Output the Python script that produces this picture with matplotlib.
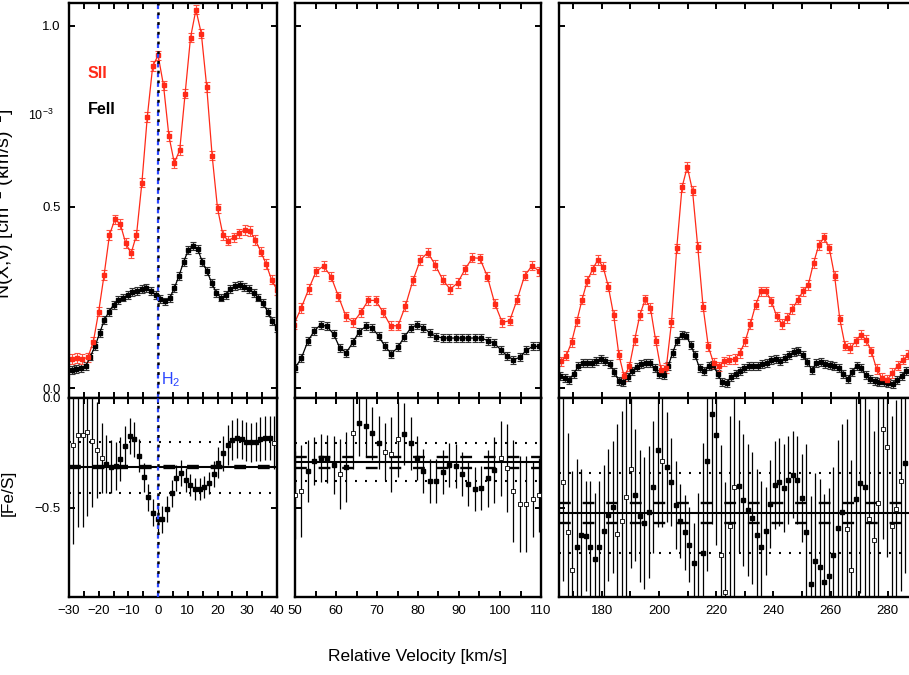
import numpy as np
import matplotlib
matplotlib.use("Agg")
import matplotlib.pyplot as plt

plt.rcParams['font.family'] = ['Liberation Sans', 'DejaVu Sans']
plt.rcParams['mathtext.fontset'] = 'custom'
plt.rcParams['mathtext.rm'] = 'Liberation Sans'
plt.rcParams['mathtext.it'] = 'Liberation Sans:italic'
plt.rcParams['mathtext.bf'] = 'Liberation Sans:bold'
plt.rcParams['lines.scale_dashes'] = False

RED = '#ff2a18'
BLUE = '#2a45ff'

# ---------------- data ----------------
# top row: N(v) in units of 1e-3, SII (red) and FeII (black), pixel grids
sii_start = [-29.1, 49.7, 165.7]
sii_step = [1.818, 1.816, 1.84]
fe_start = [-29.1, 50.0, 165.5]
fe_step = [1.5705, 1.567, 1.57]
sii_err = 0.013
fe_err = 0.011

sii_1 = [0.080, 0.083, 0.080, 0.085, 0.127, 0.211, 0.312, 0.423, 0.466, 0.453,
         0.400, 0.372, 0.423, 0.567, 0.749, 0.889, 0.919, 0.836, 0.696, 0.622,
         0.657, 0.813, 0.968, 1.045, 0.979, 0.832, 0.642, 0.496, 0.423, 0.407,
         0.416, 0.427, 0.437, 0.434, 0.409, 0.377, 0.342, 0.299, 0.271]
fe_1 = [0.051, 0.053, 0.055, 0.060, 0.087, 0.115, 0.152, 0.188, 0.211, 0.230,
        0.244, 0.250, 0.257, 0.264, 0.268, 0.273, 0.276, 0.269, 0.257, 0.246,
        0.239, 0.248, 0.276, 0.310, 0.349, 0.381, 0.392, 0.383, 0.349, 0.322,
        0.291, 0.262, 0.250, 0.257, 0.273, 0.282, 0.285, 0.280, 0.273, 0.262,
        0.250, 0.234, 0.211, 0.184, 0.165]

sii_2 = [0.175, 0.221, 0.273, 0.322, 0.337, 0.308, 0.253, 0.198, 0.181, 0.209,
         0.242, 0.242, 0.209, 0.172, 0.172, 0.227, 0.297, 0.354, 0.374, 0.340,
         0.299, 0.273, 0.290, 0.328, 0.360, 0.358, 0.308, 0.233, 0.181, 0.186,
         0.244, 0.310, 0.338, 0.322]
fe_2 = [0.055, 0.083, 0.129, 0.158, 0.175, 0.170, 0.149, 0.110, 0.098, 0.126,
        0.156, 0.170, 0.167, 0.144, 0.115, 0.095, 0.112, 0.141, 0.165, 0.175,
        0.167, 0.152, 0.142, 0.138, 0.138, 0.138, 0.138, 0.138, 0.138, 0.138,
        0.131, 0.124, 0.106, 0.089, 0.078, 0.085, 0.104, 0.115, 0.115]

sii_3 = [0.074, 0.089, 0.126, 0.184, 0.244, 0.296, 0.328, 0.354, 0.335, 0.280,
         0.202, 0.092, 0.032, 0.060, 0.133, 0.202, 0.245, 0.221, 0.131, 0.051,
         0.055, 0.181, 0.386, 0.554, 0.611, 0.545, 0.389, 0.225, 0.115, 0.069,
         0.060, 0.074, 0.078, 0.080, 0.097, 0.129, 0.177, 0.230, 0.267, 0.267,
         0.239, 0.198, 0.177, 0.193, 0.218, 0.244, 0.267, 0.285, 0.345, 0.395,
         0.416, 0.386, 0.310, 0.190, 0.117, 0.110, 0.129, 0.147, 0.133, 0.101,
         0.052, 0.028, 0.023, 0.041, 0.062, 0.078, 0.092]
fe_3 = [0.032, 0.027, 0.023, 0.040, 0.060, 0.069, 0.070, 0.069, 0.074, 0.080,
        0.075, 0.066, 0.045, 0.020, 0.016, 0.030, 0.048, 0.058, 0.066, 0.069,
        0.068, 0.055, 0.038, 0.035, 0.060, 0.098, 0.130, 0.147, 0.145, 0.120,
        0.090, 0.055, 0.046, 0.062, 0.064, 0.040, 0.016, 0.014, 0.030, 0.040,
        0.048, 0.055, 0.060, 0.060, 0.062, 0.067, 0.070, 0.078, 0.080, 0.075,
        0.082, 0.092, 0.100, 0.102, 0.090, 0.072, 0.050, 0.068, 0.072, 0.066,
        0.063, 0.062, 0.055, 0.040, 0.025, 0.045, 0.062, 0.055, 0.035, 0.025,
        0.020, 0.016, 0.016, 0.014, 0.012, 0.022, 0.034, 0.046]

# bottom row: [Fe/S] per pixel, errors, open-symbol indices
rat_start = [-28.5, 50.0, 166.5]
rat_step = [1.573, 1.567, 1.573]

rat_1 = [-0.214, -0.168, -0.168, -0.155, -0.195, -0.236, -0.274, -0.300, -0.312, -0.309,
         -0.279, -0.218, -0.173, -0.188, -0.262, -0.361, -0.452, -0.521, -0.552, -0.552,
         -0.506, -0.434, -0.365, -0.342, -0.373, -0.395, -0.414, -0.415, -0.406, -0.388,
         -0.345, -0.294, -0.252, -0.214, -0.191, -0.183, -0.188, -0.198, -0.202, -0.198,
         -0.188, -0.180, -0.180, -0.203]
rat_err_1 = [0.45, 0.42, 0.42, 0.38, 0.30, 0.22, 0.16, 0.13, 0.12, 0.11,
             0.10, 0.09, 0.08, 0.08, 0.075, 0.065, 0.06, 0.06, 0.06, 0.06,
             0.06, 0.06, 0.06, 0.06, 0.055, 0.05, 0.05, 0.05, 0.05, 0.05,
             0.06, 0.07, 0.08, 0.09, 0.09, 0.09, 0.09, 0.09, 0.09, 0.09,
             0.10, 0.10, 0.10, 0.12]
rat_open_1 = [0, 1, 2, 3, 4, 5, 6, 43]

rat_2 = [-0.441, -0.423, -0.332, -0.286, -0.274, -0.277, -0.305, -0.347, -0.315, -0.161,
         -0.115, -0.127, -0.161, -0.203, -0.244, -0.256, -0.188, -0.165, -0.206, -0.274,
         -0.332, -0.376, -0.376, -0.335, -0.305, -0.309, -0.345, -0.391, -0.414, -0.408,
         -0.365, -0.327, -0.274, -0.317, -0.423, -0.482, -0.482, -0.461, -0.441]
rat_err_2 = [0.20, 0.21, 0.14, 0.11, 0.11, 0.11, 0.13, 0.16, 0.16, 0.16,
             0.15, 0.14, 0.12, 0.12, 0.13, 0.17, 0.17, 0.14, 0.12, 0.10,
             0.10, 0.10, 0.10, 0.10, 0.10, 0.10, 0.10, 0.10, 0.10, 0.10,
             0.13, 0.15, 0.17, 0.20, 0.23, 0.22, 0.22, 0.17, 0.17]
rat_open_2 = [0, 1, 7, 9, 14, 15, 16, 32, 33, 34, 35, 36, 37, 38]

rat_3 = [-0.380, -0.611, -0.783, -0.679, -0.623, -0.627, -0.679, -0.732, -0.679, -0.605,
         -0.533, -0.497, -0.620, -0.559, -0.448, -0.324, -0.441, -0.536, -0.570, -0.520,
         -0.403, -0.238, -0.288, -0.315, -0.382, -0.488, -0.559, -0.611, -0.667, -0.750,
         -0.930, -0.703, -0.286, -0.073, -0.170, -0.714, -0.883, -0.583, -0.403, -0.400,
         -0.465, -0.509, -0.547, -0.624, -0.679, -0.603, -0.482, -0.397, -0.382, -0.408,
         -0.374, -0.348, -0.373, -0.456, -0.609, -0.847, -0.742, -0.767, -0.838, -0.808,
         -0.712, -0.589, -0.520, -0.597, -0.782, -0.461, -0.388, -0.406, -0.550, -0.648,
         -0.479, -0.142, -0.221, -0.580, -0.507, -0.377, -0.297]
rat_err_3 = [0.45, 0.45, 0.45, 0.40, 0.30, 0.25, 0.30, 0.30, 0.30, 0.30,
             0.30, 0.30, 0.50, 0.50, 0.50, 0.45, 0.30, 0.30, 0.30, 0.30,
             0.30, 0.35, 0.30, 0.25, 0.20, 0.20, 0.17, 0.17, 0.17, 0.18,
             0.50, 0.50, 0.50, 0.50, 0.50, 0.50, 0.50, 0.50, 0.50, 0.30,
             0.30, 0.30, 0.30, 0.30, 0.30, 0.20, 0.20, 0.20, 0.20, 0.20,
             0.20, 0.20, 0.20, 0.20, 0.40, 0.40, 0.40, 0.40, 0.40, 0.40,
             0.40, 0.40, 0.40, 0.50, 0.50, 0.50, 0.50, 0.50, 0.50, 0.50,
             0.50, 0.50, 0.50, 0.50, 0.50, 0.50, 0.50]
rat_open_3 = [0, 1, 2, 12, 13, 14, 15, 22, 35, 36, 37, 38, 63, 64, 68, 69, 70, 71, 72, 73, 74, 75]

# mean [Fe/S], dashed pair, dotted pair for each window
rat_mean = [-0.315, -0.290, -0.521]
rat_dash = [(-0.311, -0.319), (-0.267, -0.317), (-0.476, -0.567)]
rat_dot = [(-0.200, -0.430), (-0.203, -0.377), (-0.339, -0.703)]

xlims = [(-30, 40), (50, 110), (165, 300)]
xlabel_max = [40, 110, 280]
xmajor = [10, 10, 20]
xminor = [5, 5, 10]

sii = [sii_1, sii_2, sii_3]
fe = [fe_1, fe_2, fe_3]
rat = [rat_1, rat_2, rat_3]
rat_err = [rat_err_1, rat_err_2, rat_err_3]
rat_open = [rat_open_1, rat_open_2, rat_open_3]

# ---------------- layout (pixel boxes in a 909x675 canvas) ----------------
W, H = 909.0, 675.0
cols = [(69, 277), (295, 541), (559, 945)]
top_y = (3, 398)
bot_y = (398, 597)

fig = plt.figure(figsize=(9.09, 6.75), dpi=100)


def add_ax(x0, x1, y0, y1):
    return fig.add_axes([x0 / W, 1 - y1 / H, (x1 - x0) / W, (y1 - y0) / H])


def style(ax, k):
    ax.set_xlim(*xlims[k])
    lo, hi = xlims[k]
    ax.set_xticks(np.arange(np.ceil(lo / xmajor[k]) * xmajor[k], xlabel_max[k] + 0.1, xmajor[k]))
    ax.set_xticks(np.arange(np.ceil(lo / xminor[k]) * xminor[k], hi + 0.1, xminor[k]), minor=True)
    ax.tick_params(which='both', direction='in', top=True, right=True,
                   length=4.5, width=1.4, labelsize=9.5, pad=6)
    for s in ax.spines.values():
        s.set_linewidth(1.7)


for k in range(3):
    x0, x1 = cols[k]
    axt = add_ax(x0, x1, *top_y)
    axb = add_ax(x0, x1, *bot_y)

    # top: column densities
    vs = sii_start[k] + sii_step[k] * np.arange(len(sii[k]))
    vf = fe_start[k] + fe_step[k] * np.arange(len(fe[k]))
    axt.errorbar(vf, fe[k], yerr=fe_err, fmt='-s', color='k', ecolor='#333333',
                 ms=2.3, lw=0.9, elinewidth=0.8, capsize=2.2, capthick=0.8)
    axt.errorbar(vs, sii[k], yerr=sii_err, fmt='-s', color=RED, ecolor='#ff5040',
                 ms=2.3, lw=0.9, elinewidth=0.8, capsize=2.2, capthick=0.8)
    axt.set_ylim(-0.0276, 1.0635)
    axt.set_yticks([0.0, 0.5, 1.0])
    style(axt, k)
    axt.tick_params(labelbottom=False, labelleft=(k == 0))

    # bottom: abundance ratio
    vr = rat_start[k] + rat_step[k] * np.arange(len(rat[k]))
    r = np.array(rat[k])
    e = np.array(rat_err[k])
    is_open = np.zeros(len(r), dtype=bool)
    is_open[rat_open[k]] = True
    axb.axhline(rat_mean[k], color='k', lw=1.5, zorder=1)
    for yd in rat_dash[k]:
        axb.axhline(yd, color='k', lw=1.7, ls=(0, (8.5, 8.5)), zorder=1)
    for yd in rat_dot[k]:
        axb.axhline(yd, color='k', lw=1.5, ls=(0, (1.4, 5.8)), zorder=1)
    axb.errorbar(vr[~is_open], r[~is_open], yerr=e[~is_open], fmt='s', color='k',
                 ms=3.0, elinewidth=0.9, capsize=0, zorder=3)
    axb.errorbar(vr[is_open], r[is_open], yerr=e[is_open], fmt='s', color='k',
                 mfc='white', mec='k', mew=0.6, ms=3.0, elinewidth=0.9, capsize=0, zorder=3)
    axb.set_ylim(-0.905, 0.0)
    axb.set_yticks([-0.5, 0.0])
    style(axb, k)
    axb.tick_params(labelleft=(k == 0))

    if k == 0:
        # H2 component: blue dashes with black dots between them
        for ax in (axt, axb):
            ax.axvline(0, color=BLUE, lw=1.6, ls=(0, (3.2, 3.8)), zorder=4)
            ax.axvline(0, color='k', lw=1.8, ls=(4.0, (2.0, 5.0)), zorder=4)
        axt.text(0.8, -0.004, r'H$_2$', color=BLUE, fontsize=11.5, va='bottom', ha='left')

fig.text(88 / W, 1 - 73 / H, 'SII', color=RED, fontsize=11.5, fontweight='bold', va='center')
fig.text(88 / W, 1 - 110 / H, 'FeII', color='k', fontsize=11.5, fontweight='bold', va='center')
fig.text(28 / W, 1 - 115 / H, r'10$^{-3}$', fontsize=9, va='center', ha='left')

# axis titles sit partly past the left edge, as in the source image
fig.text(16 / W, 1 - 204 / H, r'N(X,v) [cm$^{-2}$ (km/s)$^{-1}$]', rotation=90,
         ha='right', va='center', fontsize=14)
fig.text(16 / W, 1 - 493 / H, '[Fe/S]', rotation=90, ha='right', va='center', fontsize=12.5)
fig.text(418 / W, 1 - 656 / H, 'Relative Velocity [km/s]', ha='center', va='center', fontsize=12.5)

fig.savefig('out.png', dpi=100)
